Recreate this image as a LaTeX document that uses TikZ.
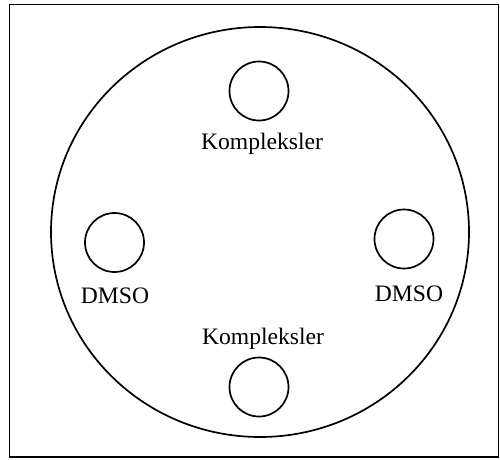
\documentclass[tikz,border=0pt]{standalone}
\usepackage{fontspec}
\setmainfont{Liberation Serif}
\begin{document}
\begin{tikzpicture}[x=1pt,y=-1pt,
  frame/.style={draw, line width=1.9pt},
  vessel/.style={draw, line width=1.7pt},
  particle/.style={draw, line width=1.7pt, circle, minimum size=59pt, inner sep=0pt},
  label/.style={font=\fontsize{23.6}{26}\selectfont, anchor=base, inner sep=0pt}]
  \useasboundingbox (0,0) rectangle (500,459);
  % outer frame
  \draw[frame] (9.5,4.5) rectangle (498.5,457);
  % large vessel
  \draw[vessel] (260,232) ellipse [x radius=209, y radius=205];
  % small particles
  \node[particle] (ptop) at (259,91) {};
  \node[particle] (pleft) at (114.5,242.5) {};
  \node[particle] (pright) at (404,239) {};
  \node[particle] (pbottom) at (259,387) {};
  % labels
  \node[label] (ltop) at (262,149) {Kompleksler};
  \node[label] (lleft) at (115,303) {DMSO};
  \node[label] (lright) at (409,301) {DMSO};
  \node[label] (lbottom) at (263,344) {Kompleksler};
\end{tikzpicture}
\end{document}
